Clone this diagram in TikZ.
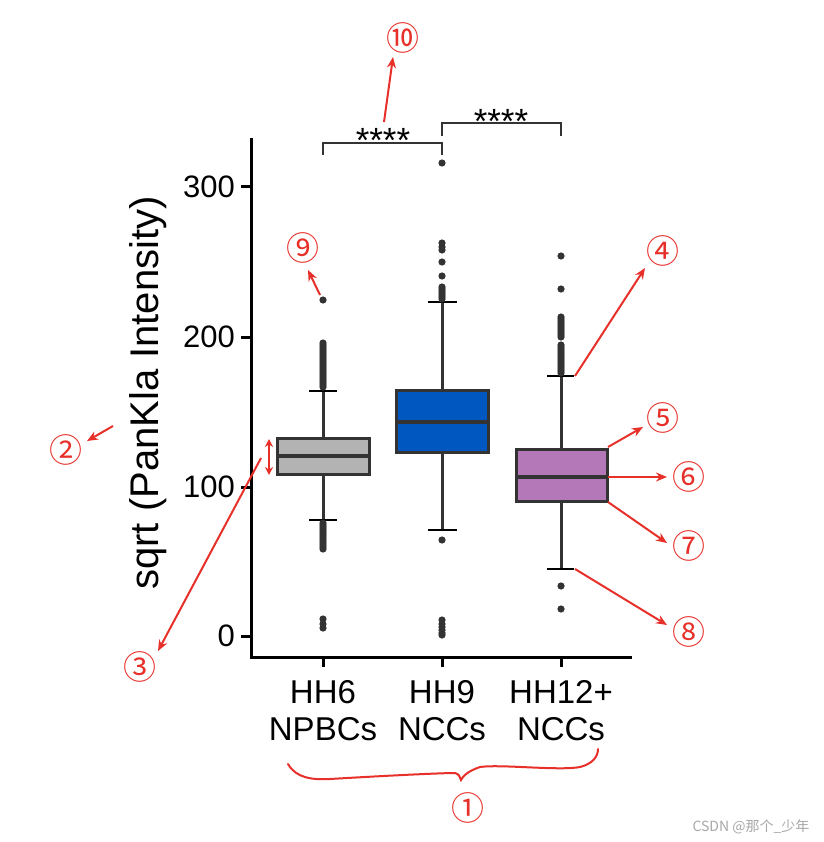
\documentclass[tikz,border=0pt]{standalone}
\usepackage{fontspec}
\setmainfont{Liberation Sans}
\newfontfamily\cjk{Noto Sans CJK SC}
\usetikzlibrary{arrows.meta}
\definecolor{ink}{HTML}{333333}
\definecolor{redm}{HTML}{E8302A}
\definecolor{boxgray}{HTML}{B3B3B3}
\definecolor{boxblue}{HTML}{0057BF}
\definecolor{boxpurple}{HTML}{B478B8}
\definecolor{wmgray}{HTML}{A8A8A8}
\tikzset{
  axisline/.style={line width=3pt, black},
  boxstyle/.style={line width=3pt, draw=ink},
  medline/.style={line width=4pt, ink},
  whisk/.style={line width=3pt, ink},
  whiskcap/.style={line width=2.6pt, black},
  outl/.style={fill=ink},
  brk/.style={line width=2pt, ink},
  ticklab/.style={font=\fontsize{31}{31}\selectfont, anchor=east, inner sep=0pt},
  catlab/.style={font=\fontsize{33}{33}\selectfont, anchor=base, inner sep=0pt},
  stars/.style={font=\fontsize{35}{35}\selectfont, anchor=base, inner sep=0pt},
  circnum/.style={font=\cjk\fontsize{33}{33}\selectfont, text=redm, inner sep=0pt},
  redarrow/.style={line width=2pt, redm, -{Stealth[length=11pt,width=9pt]}},
  redboth/.style={line width=2pt, redm, {Stealth[length=8pt,width=8pt]}-{Stealth[length=8pt,width=8pt]}},
}
\begin{document}
\begin{tikzpicture}[x=1pt,y=-1pt]
\useasboundingbox (0,0) rectangle (823,842);
\fill[white] (0,0) rectangle (823,842);

% ---- axes
\coordinate (ytop) at (251,138);
\coordinate (orig) at (251,657);
\coordinate (xend) at (632,657);
\draw[axisline] (ytop) -- (orig) -- (xend);
\foreach \yy/\lab in {187/300,337/200,487/100,636/0}{
  \draw[axisline] (241,\yy) -- (251,\yy);
  \node[ticklab] (yt\lab) at (235,\yy) {\lab};
}
\foreach \xx in {323,442,561}{
  \draw[axisline] (\xx,657) -- (\xx,667);
}
\node[font=\fontsize{40}{40}\selectfont, rotate=90, anchor=base, inner sep=0pt] (ylab) at (158,393) {sqrt (PanKla Intensity)};

% ---- category labels
\node[catlab] (c1a) at (323,703) {HH6};
\node[catlab] (c1b) at (323,740) {NPBCs};
\node[catlab] (c2a) at (442,703) {HH9};
\node[catlab] (c2b) at (442,740) {NCCs};
\node[catlab] (c3a) at (561,703) {HH12+};
\node[catlab] (c3b) at (561,740) {NCCs};

% ---- HH6 box
\draw[whisk] (323,391) -- (323,438);
\draw[whisk] (323,474) -- (323,520);
\draw[whiskcap] (309,391) -- (337,391);
\draw[whiskcap] (309,520) -- (337,520);
\draw[boxstyle, fill=boxgray] (277,438) rectangle (369,474);
\draw[medline] (277,456) -- (369,456);
\foreach \yy in {300,619,624,628}{\fill[outl] (323,\yy) circle (3.6);}
\foreach \yy in {343,345,...,387}{\fill[outl] (323,\yy) circle (3.6);}
\foreach \yy in {523,525,...,550}{\fill[outl] (323,\yy) circle (3.6);}

% ---- HH9 box
\draw[whisk] (442,302) -- (442,390);
\draw[whisk] (442,452) -- (442,530);
\draw[whiskcap] (428,302) -- (457,302);
\draw[whiskcap] (428,530) -- (457,530);
\draw[boxstyle, fill=boxblue] (396,390) rectangle (488,452);
\draw[medline] (396,422) -- (488,422);
\foreach \yy in {163,243,247,250,262,276,540,620,624,627,630,633,635}{\fill[outl] (442,\yy) circle (3.6);}
\foreach \yy in {287,289,...,299}{\fill[outl] (442,\yy) circle (3.6);}

% ---- HH12+ box
\draw[whisk] (561,376) -- (561,449);
\draw[whisk] (561,501) -- (561,569);
\draw[whiskcap] (547,376) -- (574,376);
\draw[whiskcap] (547,569) -- (574,569);
\draw[boxstyle, fill=boxpurple] (516,449) rectangle (607,501);
\draw[medline] (516,477) -- (607,477);
\foreach \yy in {256,289,586,609}{\fill[outl] (561,\yy) circle (3.6);}
\foreach \yy in {317,319,...,337}{\fill[outl] (561,\yy) circle (3.6);}
\foreach \yy in {345,347,...,373}{\fill[outl] (561,\yy) circle (3.6);}

% ---- significance brackets
\draw[brk] (323,155) -- (323,143) -- (442,143) -- (442,155);
\draw[brk] (442,136) -- (442,123) -- (561,123) -- (561,136);
\node[stars] (s1) at (383,153) {****};
\node[stars] (s2) at (501,134) {****};

% ---- red annotations
\node[circnum] (n1) at (468,808) {①};
\node[circnum] (n2) at (66,450) {②};
\node[circnum] (n3) at (140,667) {③};
\node[circnum] (n4) at (663,251) {④};
\node[circnum] (n5) at (663,418) {⑤};
\node[circnum] (n6) at (689,477) {⑥};
\node[circnum] (n7) at (689,546) {⑦};
\node[circnum] (n8) at (689,632) {⑧};
\node[circnum] (n9) at (303,248) {⑨};
\node[circnum] (n10) at (403,38) {⑩};

\coordinate (a10s) at (384,122); \coordinate (a10e) at (393,57);
\coordinate (a9s) at (320,295);  \coordinate (a9e) at (308,270);
\coordinate (a4s) at (575,376);  \coordinate (a4e) at (645,268);
\coordinate (a5s) at (608,447);  \coordinate (a5e) at (643,427);
\coordinate (a6s) at (608,477);  \coordinate (a6e) at (667,477);
\coordinate (a7s) at (608,502);  \coordinate (a7e) at (667,543);
\coordinate (a8s) at (575,569);  \coordinate (a8e) at (667,625);
\coordinate (a2s) at (113,426);  \coordinate (a2e) at (87,441);
\coordinate (a3s) at (261,458);  \coordinate (a3e) at (158,651);
\coordinate (dbt) at (269,439);  \coordinate (dbb) at (269,475);

\draw[redarrow] (a10s) -- (a10e);
\draw[redarrow] (a9s) -- (a9e);
\draw[redarrow] (a4s) -- (a4e);
\draw[redarrow] (a5s) -- (a5e);
\draw[redarrow] (a6s) -- (a6e);
\draw[redarrow] (a7s) -- (a7e);
\draw[redarrow] (a8s) -- (a8e);
\draw[redarrow] (a2s) -- (a2e);
\draw[redarrow] (a3s) -- (a3e);
\draw[redboth] (dbt) -- (dbb);

% ---- curly brace
\draw[line width=2pt, redm, line cap=round]
  (288,764) .. controls (296,778) and (312,780) .. (330,779)
  .. controls (380,776) and (440,773) .. (455,773)
  .. controls (459,774) and (460,777) .. (461,780)
  .. controls (463,776) and (468,771) .. (480,767)
  .. controls (500,764) and (560,771) .. (580,767)
  .. controls (592,764) and (598,757) .. (598,749);

% ---- watermark
\node[font=\cjk\fontsize{14}{14}\selectfont, text=wmgray, inner sep=0pt] (wm) at (751,827) {CSDN @那个\_少年};
\end{tikzpicture}
\end{document}
